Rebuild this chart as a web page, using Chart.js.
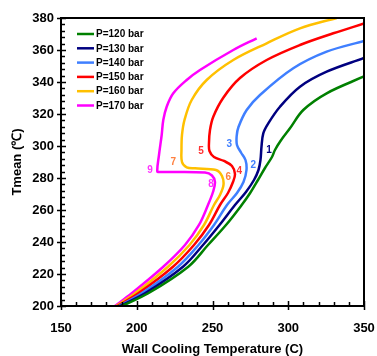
<!DOCTYPE html>
<html>
<head>
<meta charset="utf-8">
<script src="https://cdn.jsdelivr.net/npm/chart.js@4.4.0/dist/chart.umd.min.js"></script>
<style>
  html, body { margin: 0; padding: 0; background: #fff; }
  #wrap { width: 377px; height: 356px; }
</style>
</head>
<body>
<div id="wrap"><canvas id="chart" width="377" height="356"></canvas></div>
<script>
// =============================================
// Tmean vs wall cooling temperature, six pressures
// points run along each curve, bottom to top
// =============================================
const seriesNames = ['P=120 bar', 'P=130 bar', 'P=140 bar', 'P=150 bar', 'P=160 bar', 'P=170 bar'];

const p120x = [190.06, 207.62, 234.02, 247.02, 258.9, 269.26, 274.74, 280.02, 284.64, 289.26, 291.24, 294.87, 301.14, 309.92, 325.36, 350];
const p120y = [200, 207.94, 224.56, 238.13, 250.63, 263.13, 270.44, 278.75, 286.25, 293.13, 297.5, 303.13, 311.06, 322.5, 332.94, 343.44];

const p130x = [188.94, 205.44, 230.52, 243.72, 254.61, 264.84, 272.1, 277.38, 280.35, 281.67, 282.33, 283.52, 286.82, 294.54, 307.74, 325.36, 350];
const p130y = [200, 207.94, 224.56, 238.13, 250.63, 263.13, 271.25, 278.75, 285, 291.25, 299.38, 307.94, 314.19, 324.56, 337.06, 346.44, 355];

const p140x = [188.15, 203.26, 227.22, 240.75, 250.98, 259.56, 266.16, 270.45, 272.43, 271.77, 268.8, 266.16, 265.96, 267.15, 272.56, 281.34, 303.32, 325.36, 350];
const p140y = [200, 207.94, 224.56, 238.13, 250.63, 263.13, 270.63, 277.5, 285, 291.25, 295.94, 300.63, 306.25, 311.88, 322.5, 331.88, 348.56, 358.94, 365.63];

const p150x = [187.29, 201.02, 223.92, 237.78, 247.68, 254.94, 260.22, 263.52, 264.84, 262.86, 257.58, 250.98, 248.01, 247.68, 248.34, 250.52, 257.12, 268.14, 285.76, 307.74, 329.72, 350];
const p150y = [200, 207.94, 224.56, 238.13, 250.63, 263.13, 270.63, 277.5, 282.5, 287.5, 290.63, 293.13, 296.88, 301.88, 310, 318.31, 330.19, 342.5, 353.75, 363.13, 370.44, 376.56];

const p160x = [186.43, 198.84, 220.62, 234.81, 244.38, 250.98, 254.94, 257.25, 256.26, 252.3, 238.44, 232.96, 229.86, 229.53, 229.86, 231.51, 236.26, 246.16, 263.72, 285.76, 307.74, 331.96];
const p160y = [200, 207.94, 224.56, 238.13, 250.63, 263.13, 269.38, 275.63, 281.25, 285, 286.06, 286.69, 290, 297.5, 306.88, 316.25, 328.75, 341.25, 353.75, 364.19, 373.56, 380];

const p170x = [185.64, 196.66, 217.52, 231.84, 241.08, 247.02, 250.32, 251.64, 249.66, 245.04, 215.34, 213.56, 214.68, 216.46, 217.52, 219.76, 224.12, 232.96, 241.74, 263.72, 279.16];
const p170y = [200, 207.94, 224.56, 238.13, 250.63, 263.13, 271.25, 277.5, 281.56, 283.44, 283.75, 284.06, 294.38, 306.88, 316.25, 324.56, 332.94, 341.25, 347.5, 360, 367.31];

// numbered points along the S-bends
const markTexts = ['1', '2', '3', '4', '5', '6', '7', '8', '9'];
const markX = [287.3, 276.9, 261.1, 267.7, 242.4, 260.4, 224.1, 249.0, 208.7];
const markY = [297.5, 288.1, 301.1, 284.4, 296.9, 280.2, 289.8, 276.1, 285.0];

// axis ranges and tick steps
const xMin = 150, xMax = 350, xMajor = 50, xMinor = 10;
const yMin = 200, yMax = 380, yMajor = 20, yMinor = 4;

const lineColors = ['#008000', '#000080', '#3f7fff', '#ff0000', '#ffc000', '#ff00ff'];
const markColors = ['#000080', '#3f7fff', '#3f7fff', '#ff3333', '#ff3333', '#ff8040', '#ff8040', '#ff33ff', '#ff33ff'];
const FONT = 'Arial, "Liberation Sans", sans-serif';

function pts(xs, ys) {
  return xs.map((x, i) => ({ x: x, y: ys[i] }));
}

const allX = [p120x, p130x, p140x, p150x, p160x, p170x];
const allY = [p120y, p130y, p140y, p150y, p160y, p170y];

const datasets = seriesNames.map((name, i) => ({
  label: name,
  data: pts(allX[i], allY[i]),
  showLine: true,
  borderColor: lineColors[i],
  backgroundColor: lineColors[i],
  borderWidth: 2.5,
  pointRadius: 0,
  tension: 0.35
}));

// frame, tick marks, inline legend and the numbered labels
const decorations = {
  id: 'decorations',
  afterDraw(chart) {
    const ctx = chart.ctx;
    const a = chart.chartArea;
    const xs = chart.scales.x, ys = chart.scales.y;
    ctx.save();
    ctx.strokeStyle = '#000';
    ctx.lineWidth = 1.5;
    ctx.beginPath();
    for (let v = xMin; v <= xMax; v += xMinor) {
      const p = Math.round(xs.getPixelForValue(v)) + 0.5;
      const major = v % xMajor === 0;
      ctx.moveTo(p, major ? a.bottom + 4 : a.bottom);
      ctx.lineTo(p, a.bottom - (major ? 5 : 4));
    }
    for (let v = yMin; v <= yMax; v += yMinor) {
      const p = Math.round(ys.getPixelForValue(v)) + 0.5;
      const major = v % yMajor === 0;
      ctx.moveTo(major ? a.left - 4 : a.left, p);
      ctx.lineTo(a.left + (major ? 5 : 4), p);
    }
    ctx.stroke();

    ctx.lineWidth = 2;
    ctx.strokeRect(a.left, a.top, a.right - a.left, a.bottom - a.top);

    // legend
    ctx.font = 'bold 10px ' + FONT;
    ctx.textBaseline = 'middle';
    ctx.textAlign = 'left';
    seriesNames.forEach((name, i) => {
      const y = a.top + 16 + i * 14.3;
      ctx.strokeStyle = lineColors[i];
      ctx.lineWidth = 2.5;
      ctx.beginPath();
      ctx.moveTo(a.left + 16, y);
      ctx.lineTo(a.left + 33, y);
      ctx.stroke();
      ctx.fillStyle = '#000';
      ctx.fillText(name, a.left + 35, y + 0.5);
    });

    // numbered labels
    ctx.textAlign = 'center';
    markTexts.forEach((t, i) => {
      ctx.fillStyle = markColors[i];
      ctx.fillText(t, xs.getPixelForValue(markX[i]), ys.getPixelForValue(markY[i]));
    });
    ctx.restore();
  }
};

new Chart(document.getElementById('chart'), {
  type: 'scatter',
  data: { datasets: datasets },
  options: {
    responsive: false,
    animation: false,
    devicePixelRatio: 1,
    layout: { padding: { top: 18, right: 13, left: 0, bottom: 0 } },
    plugins: {
      legend: { display: false },
      tooltip: { enabled: false }
    },
    scales: {
      x: {
        type: 'linear',
        min: xMin, max: xMax,
        afterFit(s) { s.height = 50; s.paddingLeft = 0; s.paddingRight = 0; },
        grid: { display: false, drawTicks: false },
        border: { display: false },
        ticks: { stepSize: xMajor, padding: 15, color: '#000', font: { family: FONT, size: 13, weight: 'bold' } },
        title: { display: true, text: 'Wall Cooling Temperature (C)', color: '#000', padding: { top: 0, bottom: -1 }, font: { family: FONT, size: 13, weight: 'bold' } }
      },
      y: {
        type: 'linear',
        min: yMin, max: yMax,
        afterFit(s) { s.width = 61; s.paddingTop = 0; s.paddingBottom = 0; },
        grid: { display: false, drawTicks: false },
        border: { display: false },
        ticks: { stepSize: yMajor, padding: 7, color: '#000', font: { family: FONT, size: 13, weight: 'bold' } },
        title: { display: true, text: 'Tmean (℃)', color: '#000', padding: { top: 10, bottom: 0 }, font: { family: FONT, size: 13, weight: 'bold' } }
      }
    }
  },
  plugins: [decorations]
});
</script>
</body>
</html>
